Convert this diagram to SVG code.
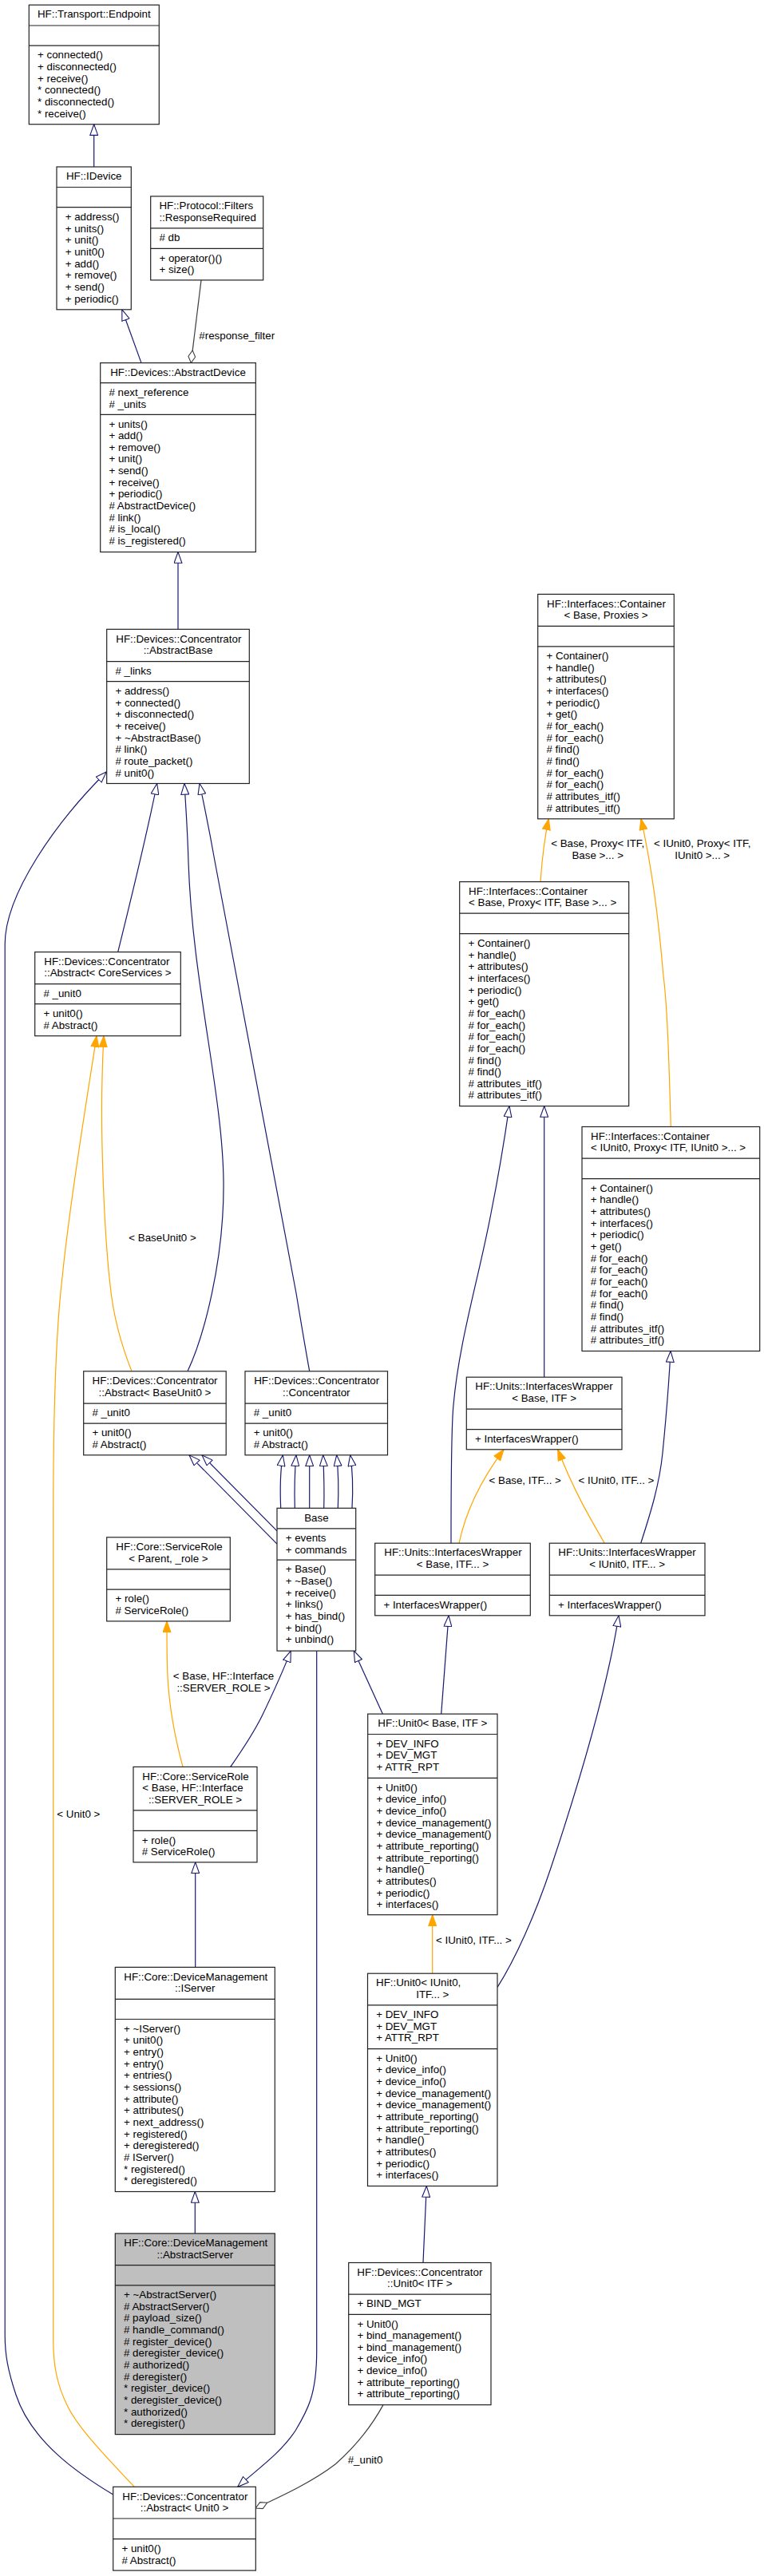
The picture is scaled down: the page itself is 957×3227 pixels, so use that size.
<svg xmlns="http://www.w3.org/2000/svg" width="957" height="3227" viewBox="0 0 957 3227">
<style>
.b{fill:#fff;stroke:#222;stroke-width:1.2}
.gr{fill:#bfbfbf;stroke:#222;stroke-width:1.2}
.s{fill:none;stroke:#222;stroke-width:1.2}
text{font-family:"Liberation Sans",Arial,sans-serif;font-size:13.33px;fill:#000}
.c{text-anchor:middle}
.e{fill:none;stroke-width:1.2}
.inh{stroke:#191970;marker-end:url(#mi)}
.tpl{stroke:#ffa500;marker-end:url(#mo)}
.use{stroke:#404040;marker-end:url(#md)}
</style>
<defs>
<marker id="mi" markerUnits="userSpaceOnUse" markerWidth="15" markerHeight="11" viewBox="0 0 15 11" refX="14.3" refY="5.5" orient="auto"><path d="M0.6,0.6 L14.3,5.5 L0.6,10.4 Z" fill="#fff" stroke="#191970" stroke-width="1.1"/></marker>
<marker id="mo" markerUnits="userSpaceOnUse" markerWidth="15" markerHeight="11" viewBox="0 0 15 11" refX="14.3" refY="5.5" orient="auto"><path d="M0.6,0.6 L14.3,5.5 L0.6,10.4 Z" fill="#ffa500" stroke="#ffa500" stroke-width="1.1"/></marker>
<marker id="md" markerUnits="userSpaceOnUse" markerWidth="17" markerHeight="10" viewBox="0 0 17 10" refX="16.4" refY="5" orient="auto"><path d="M0.6,5 L8.5,0.6 L16.4,5 L8.5,9.4 Z" fill="#fff" stroke="#404040" stroke-width="1.1"/></marker>
</defs>
<rect width="957" height="3227" fill="#fff"/>

<g id="connectors">
<path class="e inh" d="M117.7,209 L117.7,155.7"/>
<path class="e inh" d="M177,454.6 L152.8,387.8"/>
<path class="e use" d="M252,350.9 L239.3,454.6"/>
<text x="249.3" y="425">#response_filter</text>
<path class="e inh" d="M223,788.3 L223,691.5"/>
<path class="e inh" d="M147.7,1192.6 C162,1135 186,1035 196.7,981.5"/>
<path class="e inh" d="M235,1717.8 C255,1675 281,1580 280,1480 C279,1370 241,1230 236,1080 C235,1040 232,1000 231,981.5"/>
<path class="e inh" d="M387.7,1717.8 C380,1675 376,1650 371,1620 L269.3,1080 C264,1050 255,1005 250,981.5"/>
<path class="e inh" d="M141.7,3125 C100,3100 40,3060 20,3000 C10,2970 6.2,2950 6.2,2925 L6.2,1183 C6.2,1120 70,1030 133.3,967"/>
<path class="e tpl" d="M165,1717.8 C150,1680 141,1640 138,1610 C130,1540 126,1420 128,1350 C128.5,1330 129,1315 130,1297.7"/>
<text x="161.3" y="1555">&lt; BaseUnit0 &gt;</text>
<path class="e tpl" d="M168.3,3115.3 C140,3085 100,3045 85,3015 C70,2985 66.7,2960 66.7,2930 L66.7,1900 C66.7,1750 72,1650 78,1600 C88,1500 110,1370 121,1297.7"/>
<text x="71.3" y="2277.2">&lt; Unit0 &gt;</text>
<path class="e tpl" d="M677,1104.6 C679,1075 682,1050 687.3,1025.8"/>
<text class="c" x="748.7" y="1061">&lt; Base, Proxy&lt; ITF,</text>
<text class="c" x="748.7" y="1075.7">Base &gt;... &gt;</text>
<path class="e tpl" d="M840.3,1411.5 C838,1330 836,1260 830.7,1220 C825,1150 815,1080 803,1025.8"/>
<text class="c" x="879.7" y="1061">&lt; IUnit0, Proxy&lt; ITF,</text>
<text class="c" x="879.7" y="1075.7">IUnit0 &gt;... &gt;</text>
<path class="e inh" d="M681.7,1725.2 L681.7,1385.6"/>
<path class="e inh" d="M565,1933.2 C565,1860 565,1790 568,1760 C575,1680 600,1600 615,1520 C625,1470 633,1420 638,1385.6"/>
<path class="e inh" d="M802.7,1933.2 C815,1895 826,1860 830,1820 C834,1780 838,1730 840,1692.5"/>
<path class="e tpl" d="M575,1933.2 C582,1900 598,1860 631,1815.8"/>
<text class="c" x="657.7" y="1858.9">&lt; Base, ITF... &gt;</text>
<path class="e tpl" d="M757.3,1933.2 C735,1895 718,1865 698.7,1815.8"/>
<text class="c" x="772" y="1858.9">&lt; IUnit0, ITF... &gt;</text>
<path class="e inh" d="M351.7,1889.3 C350.5,1862 351.5,1840 354.3,1822.8"/>
<path class="e inh" d="M369.3,1889.3 C368.5,1862 369.5,1840 371,1822.8"/>
<path class="e inh" d="M387.7,1889.3 L387.7,1822.8"/>
<path class="e inh" d="M405.7,1889.3 C406.5,1862 405.5,1840 404.7,1822.8"/>
<path class="e inh" d="M423.3,1889.3 C424.5,1862 423.5,1840 421.7,1822.8"/>
<path class="e inh" d="M441,1889.3 C442.5,1862 441.5,1840 438.7,1822.8"/>
<path class="e inh" d="M347,1934.1 L237,1822.8"/>
<path class="e inh" d="M347,1917.9 L253,1822.8"/>
<path class="e tpl" d="M229,2213.4 C220,2180 212,2140 210,2100 C209,2080 209,2050 209,2030.9"/>
<text class="c" x="280" y="2103.9">&lt; Base, HF::Interface</text>
<text class="c" x="280" y="2118.6">::SERVER_ROLE &gt;</text>
<path class="e inh" d="M288.7,2213.4 C305,2190 318,2170 328,2150 C340,2125 352,2100 364.3,2068.1"/>
<path class="e inh" d="M396.7,2068.1 L396.7,2945 C396.7,3000 385,3020 370,3045 C350,3075 320,3095 297.7,3115.3"/>
<path class="e inh" d="M244.7,2464.4 L244.7,2332.9"/>
<path class="e inh" d="M244.3,2797.9 L244.3,2745.5"/>
<path class="e inh" d="M479.3,2147.1 L443.3,2068.1"/>
<path class="e inh" d="M552.7,2147.1 L562,2023.8"/>
<path class="e tpl" d="M541.7,2472.2 L541.7,2398.8"/>
<text x="546" y="2435.4">&lt; IUnit0, ITF... &gt;</text>
<path class="e inh" d="M623.1,2489.4 C645,2455 670,2400 690,2340 C720,2250 760,2120 775,2023.8"/>
<path class="e inh" d="M530,2834.5 L534.3,2738.5"/>
<path class="e use" d="M480,3012.6 C465,3040 445,3065 420,3087 C390,3110 350,3128 320.3,3142"/>
<text x="435.7" y="3085.6">#_unit0</text>
</g>

<g id="n-endpoint">
<rect class="b" x="36.3" y="6.2" width="163" height="149.5"/>
<path class="s" d="M36.3,32H199.3M36.3,57.2H199.3"/>
<text class="c" x="117.8" y="22.4">HF::Transport::Endpoint</text>
<text x="47" y="73.4"><tspan x="47">+ connected()</tspan><tspan x="47" dy="14.66">+ disconnected()</tspan><tspan x="47" dy="14.66">+ receive()</tspan><tspan x="47" dy="14.66">* connected()</tspan><tspan x="47" dy="14.66">* disconnected()</tspan><tspan x="47" dy="14.66">* receive()</tspan></text>
</g>

<g id="n-idevice">
<rect class="b" x="71" y="209" width="93.3" height="178.8"/>
<path class="s" d="M71,234.5H164.3M71,259.7H164.3"/>
<text class="c" x="117.7" y="225.2">HF::IDevice</text>
<text x="81.7" y="275.9"><tspan x="81.7">+ address()</tspan><tspan x="81.7" dy="14.66">+ units()</tspan><tspan x="81.7" dy="14.66">+ unit()</tspan><tspan x="81.7" dy="14.66">+ unit0()</tspan><tspan x="81.7" dy="14.66">+ add()</tspan><tspan x="81.7" dy="14.66">+ remove()</tspan><tspan x="81.7" dy="14.66">+ send()</tspan><tspan x="81.7" dy="14.66">+ periodic()</tspan></text>
</g>

<g id="n-responserequired">
<rect class="b" x="188.7" y="245.9" width="141" height="105"/>
<path class="s" d="M188.7,285.8H329.7M188.7,311.3H329.7"/>
<text x="199.4" y="262.1"><tspan x="199.4">HF::Protocol::Filters</tspan><tspan x="199.4" dy="14.66">::ResponseRequired</tspan></text>
<text x="199.4" y="302">#&#160;db</text>
<text x="199.4" y="327.5"><tspan x="199.4">+ operator()()</tspan><tspan x="199.4" dy="14.66">+ size()</tspan></text>
</g>

<g id="n-abstractdevice">
<rect class="b" x="125.7" y="454.6" width="194.6" height="236.9"/>
<path class="s" d="M125.7,479.7H320.3M125.7,519.3H320.3"/>
<text class="c" x="223" y="470.8">HF::Devices::AbstractDevice</text>
<text x="136.4" y="495.9"><tspan x="136.4"># next_reference</tspan><tspan x="136.4" dy="14.66"># _units</tspan></text>
<text x="136.4" y="535.5"><tspan x="136.4">+ units()</tspan><tspan x="136.4" dy="14.66">+ add()</tspan><tspan x="136.4" dy="14.66">+ remove()</tspan><tspan x="136.4" dy="14.66">+ unit()</tspan><tspan x="136.4" dy="14.66">+ send()</tspan><tspan x="136.4" dy="14.66">+ receive()</tspan><tspan x="136.4" dy="14.66">+ periodic()</tspan><tspan x="136.4" dy="14.66"># AbstractDevice()</tspan><tspan x="136.4" dy="14.66"># link()</tspan><tspan x="136.4" dy="14.66"># is_local()</tspan><tspan x="136.4" dy="14.66"># is_registered()</tspan></text>
</g>

<g id="n-abstractbase">
<rect class="b" x="133.7" y="788.3" width="178.6" height="193.2"/>
<path class="s" d="M133.7,828.6H312.3M133.7,853.7H312.3"/>
<text x="145.3" y="804.5">HF::Devices::Concentrator</text>
<text class="c" x="223" y="819.2">::AbstractBase</text>
<text x="144.4" y="844.8"># _links</text>
<text x="144.4" y="869.9"><tspan x="144.4">+ address()</tspan><tspan x="144.4" dy="14.66">+ connected()</tspan><tspan x="144.4" dy="14.66">+ disconnected()</tspan><tspan x="144.4" dy="14.66">+ receive()</tspan><tspan x="144.4" dy="14.66">+ ~AbstractBase()</tspan><tspan x="144.4" dy="14.66"># link()</tspan><tspan x="144.4" dy="14.66"># route_packet()</tspan><tspan x="144.4" dy="14.66"># unit0()</tspan></text>
</g>

<g id="n-container-base-proxies">
<rect class="b" x="673.7" y="744.4" width="170.6" height="281.4"/>
<path class="s" d="M673.7,784.3H844.3M673.7,809.8H844.3"/>
<text x="685" y="760.6">HF::Interfaces::Container</text>
<text class="c" x="759" y="775.3">&lt; Base, Proxies &gt;</text>
<text x="684.4" y="826"><tspan x="684.4">+ Container()</tspan><tspan x="684.4" dy="14.66">+ handle()</tspan><tspan x="684.4" dy="14.66">+ attributes()</tspan><tspan x="684.4" dy="14.66">+ interfaces()</tspan><tspan x="684.4" dy="14.66">+ periodic()</tspan><tspan x="684.4" dy="14.66">+ get()</tspan><tspan x="684.4" dy="14.66"># for_each()</tspan><tspan x="684.4" dy="14.66"># for_each()</tspan><tspan x="684.4" dy="14.66"># find()</tspan><tspan x="684.4" dy="14.66"># find()</tspan><tspan x="684.4" dy="14.66"># for_each()</tspan><tspan x="684.4" dy="14.66"># for_each()</tspan><tspan x="684.4" dy="14.66"># attributes_itf()</tspan><tspan x="684.4" dy="14.66"># attributes_itf()</tspan></text>
</g>

<g id="n-container-base-proxy">
<rect class="b" x="575.7" y="1104.6" width="212" height="281"/>
<path class="s" d="M575.7,1144.2H787.7M575.7,1169.7H787.7"/>
<text x="587" y="1120.8"><tspan x="587">HF::Interfaces::Container</tspan><tspan x="587" dy="14.66">&lt; Base, Proxy&lt; ITF, Base &gt;... &gt;</tspan></text>
<text x="586.4" y="1185.9"><tspan x="586.4">+ Container()</tspan><tspan x="586.4" dy="14.66">+ handle()</tspan><tspan x="586.4" dy="14.66">+ attributes()</tspan><tspan x="586.4" dy="14.66">+ interfaces()</tspan><tspan x="586.4" dy="14.66">+ periodic()</tspan><tspan x="586.4" dy="14.66">+ get()</tspan><tspan x="586.4" dy="14.66"># for_each()</tspan><tspan x="586.4" dy="14.66"># for_each()</tspan><tspan x="586.4" dy="14.66"># for_each()</tspan><tspan x="586.4" dy="14.66"># for_each()</tspan><tspan x="586.4" dy="14.66"># find()</tspan><tspan x="586.4" dy="14.66"># find()</tspan><tspan x="586.4" dy="14.66"># attributes_itf()</tspan><tspan x="586.4" dy="14.66"># attributes_itf()</tspan></text>
</g>

<g id="n-container-iunit0-proxy">
<rect class="b" x="729" y="1411.5" width="222.7" height="281"/>
<path class="s" d="M729,1451.1H951.7M729,1476.6H951.7"/>
<text x="740" y="1427.7"><tspan x="740">HF::Interfaces::Container</tspan><tspan x="740" dy="14.66">&lt; IUnit0, Proxy&lt; ITF, IUnit0 &gt;... &gt;</tspan></text>
<text x="739.7" y="1492.8"><tspan x="739.7">+ Container()</tspan><tspan x="739.7" dy="14.66">+ handle()</tspan><tspan x="739.7" dy="14.66">+ attributes()</tspan><tspan x="739.7" dy="14.66">+ interfaces()</tspan><tspan x="739.7" dy="14.66">+ periodic()</tspan><tspan x="739.7" dy="14.66">+ get()</tspan><tspan x="739.7" dy="14.66"># for_each()</tspan><tspan x="739.7" dy="14.66"># for_each()</tspan><tspan x="739.7" dy="14.66"># for_each()</tspan><tspan x="739.7" dy="14.66"># for_each()</tspan><tspan x="739.7" dy="14.66"># find()</tspan><tspan x="739.7" dy="14.66"># find()</tspan><tspan x="739.7" dy="14.66"># attributes_itf()</tspan><tspan x="739.7" dy="14.66"># attributes_itf()</tspan></text>
</g>

<g id="n-abstract-coreservices">
<rect class="b" x="43.7" y="1192.6" width="182.6" height="105.1"/>
<path class="s" d="M43.7,1232.6H226.3M43.7,1257.7H226.3"/>
<text x="55.3" y="1208.8"><tspan x="55.3">HF::Devices::Concentrator</tspan><tspan x="55.3" dy="14.66">::Abstract&lt; CoreServices &gt;</tspan></text>
<text x="54.4" y="1248.8"># _unit0</text>
<text x="54.4" y="1273.9"><tspan x="54.4">+ unit0()</tspan><tspan x="54.4" dy="14.66"># Abstract()</tspan></text>
</g>

<g id="n-abstract-baseunit0">
<rect class="b" x="104.7" y="1717.8" width="178.5" height="105"/>
<path class="s" d="M104.7,1758.1H283.2M104.7,1783.2H283.2"/>
<text x="115.5" y="1734">HF::Devices::Concentrator</text>
<text class="c" x="193.9" y="1748.7">::Abstract&lt; BaseUnit0 &gt;</text>
<text x="115.4" y="1774.3"># _unit0</text>
<text x="115.4" y="1799.4"><tspan x="115.4">+ unit0()</tspan><tspan x="115.4" dy="14.66"># Abstract()</tspan></text>
</g>

<g id="n-concentrator">
<rect class="b" x="307" y="1717.8" width="178.5" height="105"/>
<path class="s" d="M307,1758.1H485.5M307,1783.2H485.5"/>
<text x="318.2" y="1734">HF::Devices::Concentrator</text>
<text class="c" x="396.3" y="1748.7">::Concentrator</text>
<text x="317.7" y="1774.3"># _unit0</text>
<text x="317.7" y="1799.4"><tspan x="317.7">+ unit0()</tspan><tspan x="317.7" dy="14.66"># Abstract()</tspan></text>
</g>

<g id="n-iw-base-itf">
<rect class="b" x="584.3" y="1725.2" width="194.7" height="90.6"/>
<path class="s" d="M584.3,1765.2H779M584.3,1790.6H779"/>
<text x="595.3" y="1741.4">HF::Units::InterfacesWrapper</text>
<text class="c" x="681.6" y="1756.1">&lt; Base, ITF &gt;</text>
<text x="595" y="1806.8">+ InterfacesWrapper()</text>
</g>

<g id="n-base">
<rect class="b" x="347" y="1889.3" width="98.7" height="178.8"/>
<path class="s" d="M347,1914.8H445.7M347,1954.1H445.7"/>
<text class="c" x="396.4" y="1905.5">Base</text>
<text x="357.7" y="1931"><tspan x="357.7">+ events</tspan><tspan x="357.7" dy="14.66">+ commands</tspan></text>
<text x="357.7" y="1970.3"><tspan x="357.7">+ Base()</tspan><tspan x="357.7" dy="14.66">+ ~Base()</tspan><tspan x="357.7" dy="14.66">+ receive()</tspan><tspan x="357.7" dy="14.66">+ links()</tspan><tspan x="357.7" dy="14.66">+ has_bind()</tspan><tspan x="357.7" dy="14.66">+ bind()</tspan><tspan x="357.7" dy="14.66">+ unbind()</tspan></text>
</g>

<g id="n-servicerole-parent">
<rect class="b" x="133.7" y="1925.8" width="154.6" height="105.1"/>
<path class="s" d="M133.7,1965.8H288.3M133.7,1991.2H288.3"/>
<text x="145.3" y="1942">HF::Core::ServiceRole</text>
<text class="c" x="211" y="1956.7">&lt; Parent, _role &gt;</text>
<text x="144.4" y="2007.4"><tspan x="144.4">+ role()</tspan><tspan x="144.4" dy="14.66"># ServiceRole()</tspan></text>
</g>

<g id="n-iw-base-itfs">
<rect class="b" x="469.7" y="1933.2" width="194.6" height="90.6"/>
<path class="s" d="M469.7,1973.2H664.3M469.7,1998.3H664.3"/>
<text x="481.3" y="1949.4">HF::Units::InterfacesWrapper</text>
<text class="c" x="567" y="1964.1">&lt; Base, ITF... &gt;</text>
<text x="480.4" y="2014.5">+ InterfacesWrapper()</text>
</g>

<g id="n-iw-iunit0-itfs">
<rect class="b" x="688.3" y="1933.2" width="194.7" height="90.6"/>
<path class="s" d="M688.3,1973.2H883M688.3,1998.3H883"/>
<text x="699.3" y="1949.4">HF::Units::InterfacesWrapper</text>
<text class="c" x="785.6" y="1964.1">&lt; IUnit0, ITF... &gt;</text>
<text x="699" y="2014.5">+ InterfacesWrapper()</text>
</g>

<g id="n-unit0-base-itf">
<rect class="b" x="460.7" y="2147.1" width="162.3" height="251.6"/>
<path class="s" d="M460.7,2172.5H623M460.7,2227.4H623"/>
<text class="c" x="541.8" y="2163.3">HF::Unit0&lt; Base, ITF &gt;</text>
<text x="471.4" y="2188.7"><tspan x="471.4">+ DEV_INFO</tspan><tspan x="471.4" dy="14.66">+ DEV_MGT</tspan><tspan x="471.4" dy="14.66">+ ATTR_RPT</tspan></text>
<text x="471.4" y="2243.6"><tspan x="471.4">+ Unit0()</tspan><tspan x="471.4" dy="14.66">+ device_info()</tspan><tspan x="471.4" dy="14.66">+ device_info()</tspan><tspan x="471.4" dy="14.66">+ device_management()</tspan><tspan x="471.4" dy="14.66">+ device_management()</tspan><tspan x="471.4" dy="14.66">+ attribute_reporting()</tspan><tspan x="471.4" dy="14.66">+ attribute_reporting()</tspan><tspan x="471.4" dy="14.66">+ handle()</tspan><tspan x="471.4" dy="14.66">+ attributes()</tspan><tspan x="471.4" dy="14.66">+ periodic()</tspan><tspan x="471.4" dy="14.66">+ interfaces()</tspan></text>
</g>

<g id="n-servicerole-base">
<rect class="b" x="167" y="2213.4" width="155" height="119.5"/>
<path class="s" d="M167,2267.8H322M167,2293.3H322"/>
<text x="178.3" y="2229.6"><tspan x="178.3">HF::Core::ServiceRole</tspan><tspan x="178.3" dy="14.66">&lt; Base, HF::Interface</tspan></text>
<text class="c" x="244.5" y="2258.9">::SERVER_ROLE &gt;</text>
<text x="177.7" y="2309.5"><tspan x="177.7">+ role()</tspan><tspan x="177.7" dy="14.66"># ServiceRole()</tspan></text>
</g>

<g id="n-iserver">
<rect class="b" x="144.3" y="2464.4" width="200" height="281.1"/>
<path class="s" d="M144.3,2504.4H344.3M144.3,2529.5H344.3"/>
<text x="155.3" y="2480.6">HF::Core::DeviceManagement</text>
<text class="c" x="244.3" y="2495.3">::IServer</text>
<text x="155" y="2545.7"><tspan x="155">+ ~IServer()</tspan><tspan x="155" dy="14.66">+ unit0()</tspan><tspan x="155" dy="14.66">+ entry()</tspan><tspan x="155" dy="14.66">+ entry()</tspan><tspan x="155" dy="14.66">+ entries()</tspan><tspan x="155" dy="14.66">+ sessions()</tspan><tspan x="155" dy="14.66">+ attribute()</tspan><tspan x="155" dy="14.66">+ attributes()</tspan><tspan x="155" dy="14.66">+ next_address()</tspan><tspan x="155" dy="14.66">+ registered()</tspan><tspan x="155" dy="14.66">+ deregistered()</tspan><tspan x="155" dy="14.66"># IServer()</tspan><tspan x="155" dy="14.66">* registered()</tspan><tspan x="155" dy="14.66">* deregistered()</tspan></text>
</g>

<g id="n-unit0-iunit0-itfs">
<rect class="b" x="460.5" y="2472.2" width="162.5" height="266.3"/>
<path class="s" d="M460.5,2511.8H623M460.5,2566.6H623"/>
<text x="471" y="2488.4">HF::Unit0&lt; IUnit0,</text>
<text class="c" x="541.8" y="2503.1">ITF... &gt;</text>
<text x="471.2" y="2528"><tspan x="471.2">+ DEV_INFO</tspan><tspan x="471.2" dy="14.66">+ DEV_MGT</tspan><tspan x="471.2" dy="14.66">+ ATTR_RPT</tspan></text>
<text x="471.2" y="2582.8"><tspan x="471.2">+ Unit0()</tspan><tspan x="471.2" dy="14.66">+ device_info()</tspan><tspan x="471.2" dy="14.66">+ device_info()</tspan><tspan x="471.2" dy="14.66">+ device_management()</tspan><tspan x="471.2" dy="14.66">+ device_management()</tspan><tspan x="471.2" dy="14.66">+ attribute_reporting()</tspan><tspan x="471.2" dy="14.66">+ attribute_reporting()</tspan><tspan x="471.2" dy="14.66">+ handle()</tspan><tspan x="471.2" dy="14.66">+ attributes()</tspan><tspan x="471.2" dy="14.66">+ periodic()</tspan><tspan x="471.2" dy="14.66">+ interfaces()</tspan></text>
</g>

<g id="n-abstractserver">
<rect class="gr" x="144.3" y="2797.9" width="200" height="251.7"/>
<path class="s" d="M144.3,2837.6H344.3M144.3,2862.9H344.3"/>
<text x="155.3" y="2814.1">HF::Core::DeviceManagement</text>
<text class="c" x="244.3" y="2828.8">::AbstractServer</text>
<text x="155" y="2879.1"><tspan x="155">+ ~AbstractServer()</tspan><tspan x="155" dy="14.66"># AbstractServer()</tspan><tspan x="155" dy="14.66"># payload_size()</tspan><tspan x="155" dy="14.66"># handle_command()</tspan><tspan x="155" dy="14.66"># register_device()</tspan><tspan x="155" dy="14.66"># deregister_device()</tspan><tspan x="155" dy="14.66"># authorized()</tspan><tspan x="155" dy="14.66"># deregister()</tspan><tspan x="155" dy="14.66">* register_device()</tspan><tspan x="155" dy="14.66">* deregister_device()</tspan><tspan x="155" dy="14.66">* authorized()</tspan><tspan x="155" dy="14.66">* deregister()</tspan></text>
</g>

<g id="n-concentrator-unit0-itf">
<rect class="b" x="436.7" y="2834.5" width="178.3" height="178.1"/>
<path class="s" d="M436.7,2874.2H615M436.7,2899.3H615"/>
<text x="447.3" y="2850.7">HF::Devices::Concentrator</text>
<text class="c" x="525.8" y="2865.4">::Unit0&lt; ITF &gt;</text>
<text x="447.4" y="2890.4">+ BIND_MGT</text>
<text x="447.4" y="2915.5"><tspan x="447.4">+ Unit0()</tspan><tspan x="447.4" dy="14.66">+ bind_management()</tspan><tspan x="447.4" dy="14.66">+ bind_management()</tspan><tspan x="447.4" dy="14.66">+ device_info()</tspan><tspan x="447.4" dy="14.66">+ device_info()</tspan><tspan x="447.4" dy="14.66">+ attribute_reporting()</tspan><tspan x="447.4" dy="14.66">+ attribute_reporting()</tspan></text>
</g>

<g id="n-abstract-unit0">
<rect class="b" x="141.7" y="3115.3" width="178.6" height="104.8"/>
<path class="s" d="M141.7,3155H320.3M141.7,3180.7H320.3"/>
<text x="153.3" y="3131.5">HF::Devices::Concentrator</text>
<text class="c" x="231" y="3146.2">::Abstract&lt; Unit0 &gt;</text>
<text x="152.4" y="3196.9"><tspan x="152.4">+ unit0()</tspan><tspan x="152.4" dy="14.66"># Abstract()</tspan></text>
</g>
</svg>
